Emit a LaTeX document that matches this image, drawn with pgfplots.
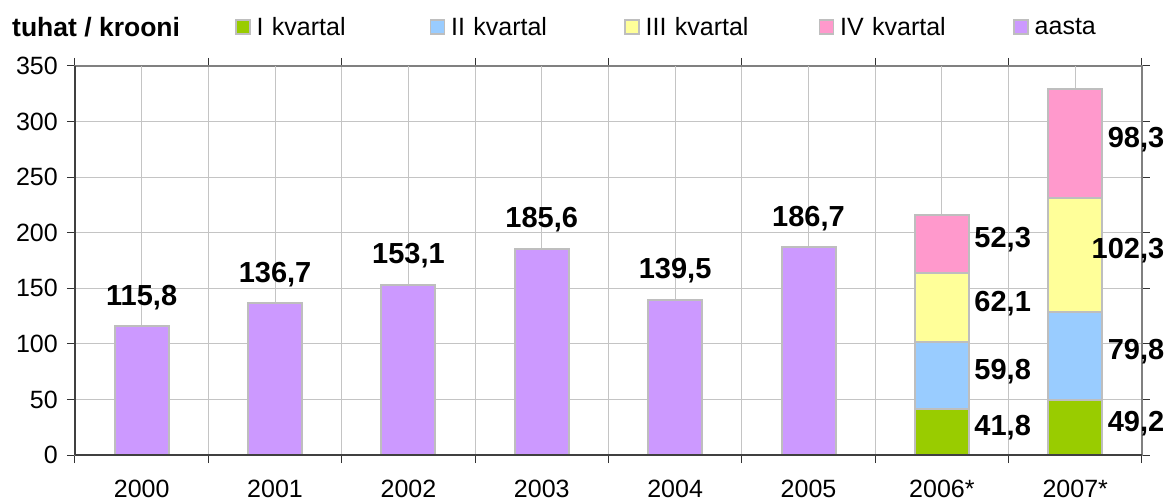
\documentclass[border=0pt]{standalone}
\usepackage{pgfplots}
\pgfplotsset{compat=1.18}
\usepackage{pgfplotstable}
\usepackage{fontspec}
\setmainfont{Liberation Sans}
\definecolor{cI}{HTML}{99CC00}
\definecolor{cII}{HTML}{99CCFF}
\definecolor{cIII}{HTML}{FFFF99}
\definecolor{cIV}{HTML}{FF99CC}
\definecolor{cA}{HTML}{CC99FF}
\definecolor{bord}{HTML}{BEBEBE}
\definecolor{gridc}{HTML}{C4C4C4}
\pgfplotstableread{
x y
0 115.8
1 136.7
2 153.1
3 185.6
4 139.5
5 186.7
}\aasta
\pgfplotstableread{
x q1 q2 q3 q4
6 41.8 59.8 62.1 52.3
7 49.2 79.8 102.3 98.3
}\kvart
\pgfplotsset{
  mylegend/.style={legend image code/.code={\draw[##1, line width=1.5bp] (0bp,-7bp) rectangle (14bp,7bp);}},
  base/.style={at={(0,0)}, anchor=south west, scale only axis, width=1067bp, height=389bp,
    xmin=-0.5, xmax=7.5, ymin=0, ymax=350,
    /pgf/number format/.cd, assume math mode=true, use comma, fixed, fixed zerofill, precision=1, /pgfplots/.cd},
}
\begin{document}
\begin{tikzpicture}
\path[use as bounding box] (-75bp,-47bp) rectangle (1095bp,455bp);
\node[anchor=west, inner sep=0pt, font=\fontsize{26.5bp}{31bp}\selectfont\bfseries] at (-63bp,428bp) {tuhat / krooni};
\begin{axis}[base,
  ybar, bar width=54bp, bar shift=0pt,
  axis line style={draw=black!50, line width=1.5bp},
  ytick={0,50,...,350},
  yticklabel={\pgfmathprintnumber[fixed, precision=0]{\tick}},
  xtick={-0.5,0.5,...,7.5}, xticklabels={},
  extra x ticks={0,...,7},
  extra x tick labels={2000,2001,2002,2003,2004,2005,2006*,2007*},
  extra x tick style={grid=major, major tick length=0pt},
  tick align=outside, major tick length=8bp,
  tick style={draw=black!80, line width=1bp},
  xmajorgrids, ymajorgrids,
  major grid style={draw=gridc, line width=1bp},
  tick label style={font=\fontsize{25bp}{30bp}\selectfont, inner sep=0pt},
  yticklabel style={xshift=-9bp},
  xticklabel style={yshift=-25bp},
  clip=false,
  nodes near coords,
  every node near coord/.append style={font=\fontsize{29bp}{34bp}\selectfont\bfseries, anchor=base, inner sep=0pt, yshift=21bp},
]
\addplot[fill=cA, draw=bord, line width=2bp] table[x=x, y=y] {\aasta};
\end{axis}
\begin{axis}[base,
  ybar stacked, bar width=54bp,
  axis x line*=bottom, axis y line*=left,
  axis line style={draw=black!75, line width=1.2bp, -},
  xtick=\empty, ytick=\empty,
  axis on top, clip=false,
  nodes near coords, point meta=explicit,
  every node near coord/.append style={font=\fontsize{29bp}{34bp}\selectfont\bfseries, anchor=east, inner sep=0pt, xshift=90bp, yshift=4bp},
  legend columns=5,
  legend style={at={(0,1)}, anchor=west, xshift=160bp, yshift=39bp, draw=none, fill=none, inner sep=0pt,
    font=\fontsize{25bp}{30bp}\selectfont,
    /tikz/every odd column/.append style={column sep=6bp},
    /tikz/every even column/.append style={column sep=63bp},
    nodes={inner sep=0pt, text width=110bp, align=left}},
]
\addplot[mylegend, fill=cI, draw=bord, line width=2bp] table[x=x, y=q1, meta=q1] {\kvart};
\addlegendentry{I kvartal}
\addplot[mylegend, fill=cII, draw=bord, line width=2bp] table[x=x, y=q2, meta=q2] {\kvart};
\addlegendentry{II kvartal}
\addplot[mylegend, fill=cIII, draw=bord, line width=2bp] table[x=x, y=q3, meta=q3] {\kvart};
\addlegendentry{III kvartal}
\addplot[mylegend, fill=cIV, draw=bord, line width=2bp] table[x=x, y=q4, meta=q4] {\kvart};
\addlegendentry{IV kvartal}
\addlegendimage{mylegend, fill=cA, draw=bord}
\addlegendentry{aasta}
\end{axis}
\end{tikzpicture}
\end{document}
